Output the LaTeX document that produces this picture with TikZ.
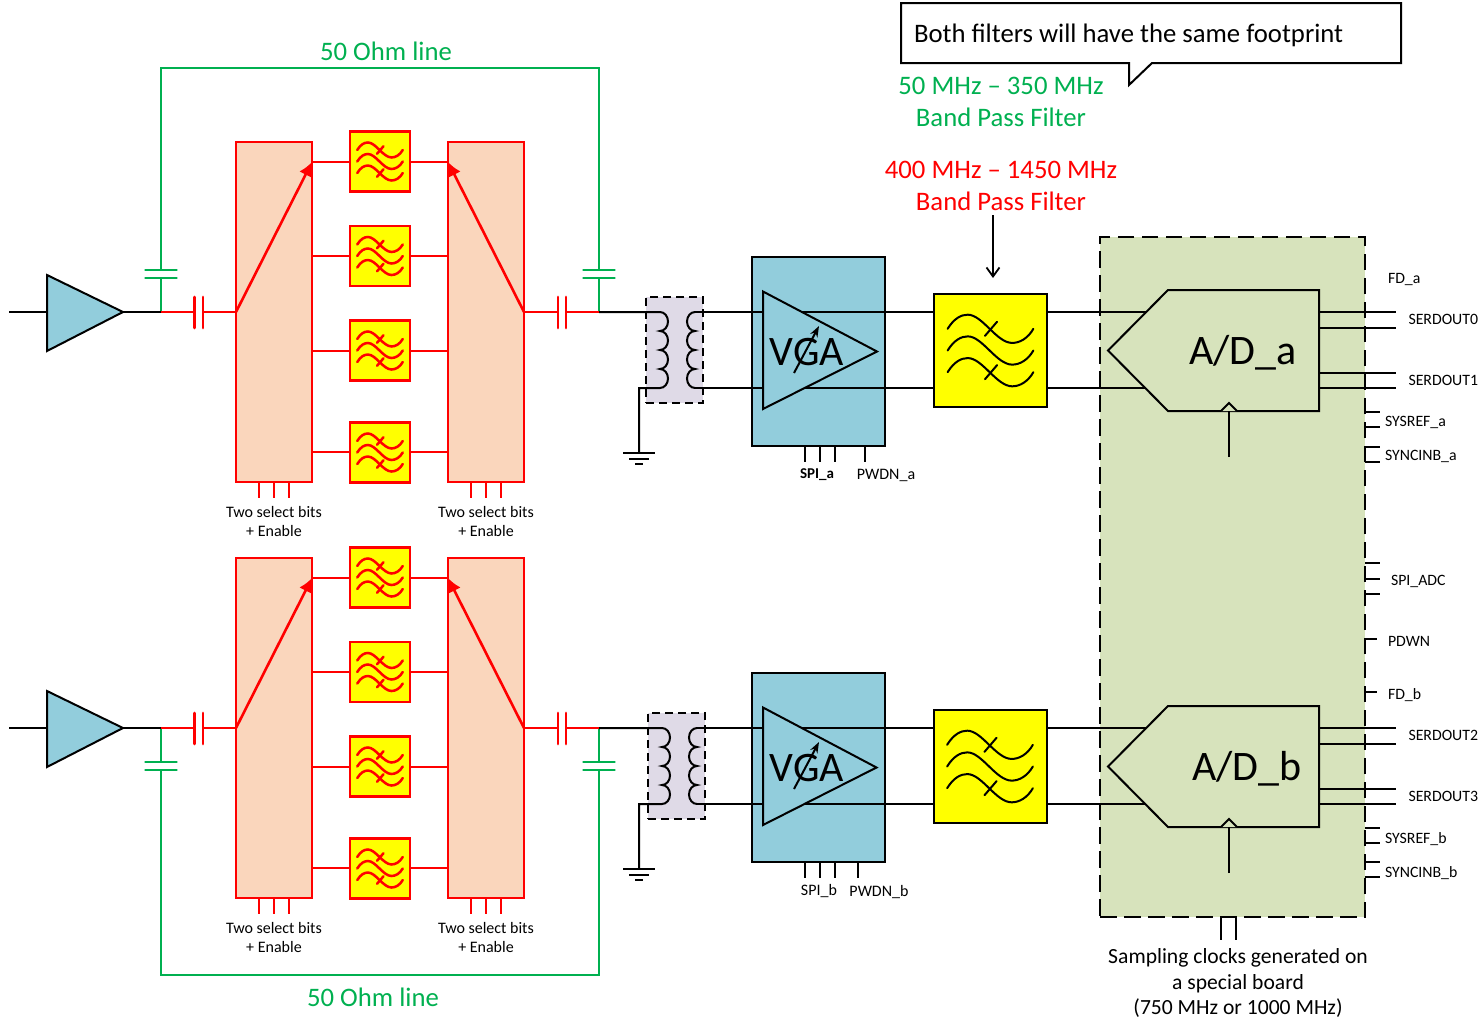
\documentclass[tikz,border=0pt]{standalone}
\usepackage{fontspec}
\setmainfont{Carlito}
\usetikzlibrary{arrows.meta,calc}
\definecolor{ampblue}{HTML}{92CDDC}
\definecolor{peach}{HTML}{FAD6BC}
\definecolor{adcgreen}{HTML}{D7E3BC}
\definecolor{lav}{HTML}{DFDAE7}
\definecolor{gline}{HTML}{00B050}
\definecolor{fyellow}{HTML}{FFFF00}
\definecolor{fred}{HTML}{FF0000}
\tikzset{
  wire/.style={black,line width=2pt},
  rwire/.style={fred,line width=2pt},
  gwire/.style={gline,line width=2pt},
  plate/.style={line width=2.8pt,line cap=round},
  boxnode/.style={rectangle,inner sep=0,outer sep=0,anchor=center},
  swbox/.style={boxnode,draw=fred,fill=peach,line width=2pt,minimum width=76pt,minimum height=340pt},
  txt/.style={inner sep=0,outer sep=0,anchor=center,align=center},
  small/.style={txt,font=\fontsize{16}{19}\selectfont},
  pinlab/.style={inner sep=0,outer sep=0,anchor=west,font=\fontsize{15.8}{18}\selectfont},
  mid/.style={txt,font=\fontsize{26.7}{32}\selectfont},
  big/.style={txt,font=\fontsize{42}{50}\selectfont},
}
% name, cx, cy, box size, colour, box line, curve line
\newcommand\filt[7]{%
  \node[boxnode,draw=#5,fill=fyellow,line width=#6,minimum width=#4 pt,minimum height=#4 pt] (#1) at (#2,#3) {};
  \begin{scope}[shift={(#1.center)},x=#4/112*1pt,y=-#4/112*1pt,draw=#5,line width=#7,line cap=round]
    \foreach \o in {0,21.5,43}{
      \draw (-42.5,-21.5+\o) .. controls (-36,-32+\o) and (-29,-35.5+\o) .. (-22.5,-35.5+\o)
        .. controls (-8,-35.5+\o) and (6,-7.5+\o) .. (21.5,-7.5+\o)
        .. controls (29,-7.5+\o) and (37,-12+\o) .. (42.5,-21.5+\o);}
    \foreach \o in {0,43}{\draw (-5.5,-14.5+\o) -- (6.5,-28.5+\o);}
  \end{scope}}
% prefix, dy : input amplifier, caps, switches, four filters
\newcommand\bank[2]{%
\begin{scope}[shift={(0,#2)}]
  \coordinate (#1in) at (9,312);
  \coordinate (#1ampa) at (47,312);
  \coordinate (#1ampb) at (123,312);
  \coordinate (#1j) at (161,312);
  \coordinate (#1ca) at (194.5,312);
  \coordinate (#1cb) at (203,312);
  \coordinate (#1da) at (558,312);
  \coordinate (#1db) at (566,312);
  \coordinate (#1k) at (599,312);
  \node[swbox] (#1sl) at (274,312) {};
  \node[swbox] (#1sr) at (486,312) {};
  \draw[wire,fill=ampblue,line join=miter] (47,275) -- (123,312) -- (47,351) -- cycle;
  \draw[wire] (#1in) -- (#1ampa);
  \draw[wire] (#1ampb) -- (#1j);
  \draw[rwire] (#1j) -- (#1ca);
  \draw[rwire] (#1cb) -- (#1sl.west |- #1j);
  \draw[rwire,plate] ($(#1ca)+(0,-15)$) -- ($(#1ca)+(0,16)$);
  \draw[rwire,plate] ($(#1cb)+(0,-15)$) -- ($(#1cb)+(0,16)$);
  \draw[rwire] (#1sr.east |- #1k) -- (#1da);
  \draw[rwire] (#1db) -- (#1k);
  \draw[rwire,plate] ($(#1da)+(0,-15)$) -- ($(#1da)+(0,16)$);
  \draw[rwire,plate] ($(#1db)+(0,-15)$) -- ($(#1db)+(0,16)$);
  \draw[rwire,line width=2.6pt,-{Latex[length=14pt,width=14pt]}] (#1sl.west |- #1j) -- (312,162);
  \draw[rwire,line width=2.6pt,-{Latex[length=14pt,width=14pt]}] (#1sr.east |- #1k) -- (448,162);
  \filt{#1f1}{380}{161.5}{60}{fred}{2.8pt}{2.5pt}
  \filt{#1f2}{380}{256}{60}{fred}{2.8pt}{2.5pt}
  \filt{#1f3}{380}{350.5}{60}{fred}{2.8pt}{2.5pt}
  \filt{#1f4}{380}{452.5}{60}{fred}{2.8pt}{2.5pt}
  \foreach \n/\yy in {1/162,2/256,3/351,4/452}{
    \draw[rwire] (#1sl.east |- 0,\yy) -- (#1f\n.west |- 0,\yy);
    \draw[rwire] (#1f\n.east |- 0,\yy) -- (#1sr.west |- 0,\yy);}
  \foreach \xx in {259,274,289,471,486,501}{
    \draw[rwire] (\xx,482) -- (\xx,498);}
  \node[small] (#1tl) at (274,521) {Two select bits\\+ Enable};
  \node[small] (#1tr) at (486,521) {Two select bits\\+ Enable};
\end{scope}}
% prefix, dy, transformer dx, vga dx (right edge), filter dx, A/D text, text x
\newcommand\chan[7]{%
\begin{scope}[shift={(0,#2)}]
  \node[boxnode,fill=lav,draw=black,line width=2pt,dash pattern=on 8pt off 5pt,minimum width=57pt,minimum height=106pt] (#1xf) at (674.5+#3,350) {};
  \node[boxnode,draw=black,fill=ampblue,line width=2pt,minimum width=133pt+#4,minimum height=189pt] (#1vb) at (818.5+#4/2,351.5) {};
  \filt{#1bf}{990.5+#5}{350.5}{113}{black}{2pt}{2pt}
  % transformer
  \coordinate (#1pt) at (660+#3,312);
  \coordinate (#1st) at (695+#3,312);
  \coordinate (#1sb) at (695+#3,388);
  \coordinate (#1gnd) at (639,453);
  \draw[wire] (599,312) -- (#1pt)
     arc[start angle=90,end angle=-90,x radius=8pt,y radius=9.5pt]
     arc[start angle=90,end angle=-90,x radius=8pt,y radius=9.5pt]
     arc[start angle=90,end angle=-90,x radius=8pt,y radius=9.5pt]
     arc[start angle=90,end angle=-90,x radius=8pt,y radius=9.5pt]
     -- (#1gnd |- 0,388) -- (#1gnd);
  \draw[wire] (#1st)
     arc[start angle=90,end angle=270,x radius=8pt,y radius=9.5pt]
     arc[start angle=90,end angle=270,x radius=8pt,y radius=9.5pt]
     arc[start angle=90,end angle=270,x radius=8pt,y radius=9.5pt]
     arc[start angle=90,end angle=270,x radius=8pt,y radius=9.5pt];
  \draw[wire] ($(#1gnd)+(-16,0)$) -- ($(#1gnd)+(16,0)$);
  \draw[wire] ($(#1gnd)+(-10,5.5)$) -- ($(#1gnd)+(10,5.5)$);
  \draw[wire] ($(#1gnd)+(-4,11)$) -- ($(#1gnd)+(4,11)$);
  % amplifier
  \draw[wire] (#1st) -- (763,312);
  \draw[wire] (#1sb) -- (763,388);
  \draw[wire] (802,312) -- (#1bf.west |- 0,312);
  \draw[wire] (805,388) -- (#1bf.west |- 0,388);
  \draw[wire] (763,291.5) -- (877+#4,351.5) -- (763,409) -- cycle;
  \node[big] (#1vt) at (807,352) {VGA};
  \draw[wire,-{Stealth[length=11pt,width=8pt]}] (794,373) -- (819,326);
  \foreach \xx in {805,820,835}{\draw[wire] (\xx,446) -- ++(0,16);}
  % A/D
  \draw[wire,fill=adcgreen] (1168,290) -- (1319,290) -- (1319,411) -- (1168,411) -- (1108,350.5) -- cycle;
  \draw[wire] (#1bf.east |- 0,312) -- (1146,312);
  \draw[wire] (#1bf.east |- 0,388) -- (1146,388);
  \node[big] (#1at) at (#7,353) {#6};
  \foreach \yy in {312,328,373,388}{\draw[wire] (1319,\yy) -- (1396,\yy);}
  \draw[wire,fill=adcgreen] (1221,411) -- (1229,403) -- (1237,411);
  \draw[wire] (1229,457) -- (1229,411);
\end{scope}}
\begin{document}
\begin{tikzpicture}[x=1pt,y=-1pt]
\useasboundingbox (0,0) rectangle (1483,1017);
% ADC group
\node[boxnode,fill=adcgreen,draw=black,line width=2pt,dash pattern=on 16.5pt off 7.5pt,minimum width=265pt,minimum height=680pt] (adc) at (1232.5,577) {};
% green lines
\coordinate (gtl) at (161,68); \coordinate (gtr) at (599,68);
\coordinate (gbl) at (161,975); \coordinate (gbr) at (599,975);
\draw[gwire] (161,270) -- (gtl) -- (gtr) -- (599,270);
\draw[gwire] (161,278) -- (161,312);
\draw[gwire] (599,278) -- (599,312);
\draw[gwire] (161,770) -- (gbl) -- (gbr) -- (599,770);
\draw[gwire] (161,762) -- (161,728);
\draw[gwire] (599,762) -- (599,728);
\foreach \xx in {161,599}{\foreach \yy in {270,278,762,770}{
  \draw[gwire,plate] (\xx-15.5,\yy) -- (\xx+15.5,\yy);}}
\bank{a}{0}
\bank{b}{416}
\chan{p}{0}{0}{0}{0}{A/D\_a}{1243}
\chan{q}{416}{2}{-0.5}{-0.5}{A/D\_b}{1247}
% VGA pin 4 and labels
\draw[wire] (865,446) -- (865,462);
\draw[wire] (858,862) -- (858,878);
\node[small,font=\fontsize{15}{17}\selectfont\bfseries] (spia) at (817,475) {SPI\_a};
\node[small] (pwdna) at (886,475) {PWDN\_a};
\node[small] (spib) at (819,891) {SPI\_b};
\node[small] (pwdnb) at (879,892) {PWDN\_b};
% ADC pins
\foreach \yy in {412,427,447,462,563,579,594,828,843,862,877}{
  \draw[wire] (adc.east |- 0,\yy) -- ++(15,0);}
\foreach \yy in {639,692}{\draw[wire] (adc.east |- 0,\yy) -- ++(12,0);}
\draw[wire] (adc.east |- 0,447) -- (adc.east |- 0,462);
\draw[wire] (1221,917) -- (1221,940);
\draw[wire] (1236,917) -- (1236,940);
\draw[wire] (1221,917) -- (1236,917);
\node[pinlab] (fda) at (1388,279) {FD\_a};
\node[pinlab] (s0) at (1408.5,319.5) {SERDOUT0};
\node[pinlab] (s1) at (1408.5,380.5) {SERDOUT1};
\node[pinlab] (sra) at (1385,422) {SYSREF\_a};
\node[pinlab] (sya) at (1385,456) {SYNCINB\_a};
\node[pinlab] (spiadc) at (1391,581) {SPI\_ADC};
\node[pinlab] (pdwn) at (1388,641.5) {PDWN};
\node[pinlab] (fdb) at (1388,695) {FD\_b};
\node[pinlab] (s2) at (1408.5,735.5) {SERDOUT2};
\node[pinlab] (s3) at (1408.5,796.5) {SERDOUT3};
\node[pinlab] (srb) at (1385,839) {SYSREF\_b};
\node[pinlab] (syb) at (1385,873) {SYNCINB\_b};
\node[txt,font=\fontsize{21.6}{25.5}\selectfont] (clk) at (1238,983) {Sampling clocks generated on\\a special board\\(750 MHz or 1000 MHz)};
% callout
\draw[wire,line join=miter] (901,3) -- (1401,3) -- (1401,63) -- (1152,63) -- (1129,85) -- (1129,63) -- (901,63) -- cycle;
\node[txt,anchor=west,font=\fontsize{26.7}{30}\selectfont] (note) at (914,35) {Both filters will have the same footprint};
\node[mid,text=gline] (g1) at (1001,101.5) {50 MHz -- 350 MHz\\Band Pass Filter};
\node[mid,text=fred] (r1) at (1001,185.5) {400 MHz -- 1450 MHz\\Band Pass Filter};
\coordinate (arrowtop) at (993,215);
\coordinate (arrowend) at (993,278);
\draw[wire,line width=1.8pt,-{Straight Barb[length=9pt,width=13pt]}] (arrowtop) -- (arrowend);
\node[mid,text=gline] (gl1) at (386,51.5) {50 Ohm line};
\node[mid,text=gline] (gl2) at (373,997.5) {50 Ohm line};
\end{tikzpicture}
\end{document}
